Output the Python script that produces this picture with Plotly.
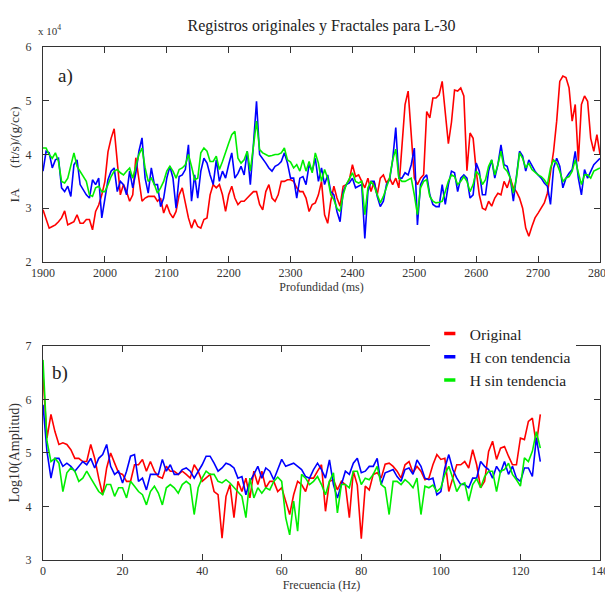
import plotly.graph_objects as go

# ---------------- data: panel a) (values in units of 1e4) ----------------
depth_ms = list(range(1900, 2801, 5))

ia_original = [
    2.97, 2.79, 2.63, 2.66, 2.69, 2.75, 2.82, 2.95, 2.69, 2.72, 2.75, 2.88, 2.72, 2.72, 2.79, 2.79, 2.60, 2.94, 3.06, 3.25,
    3.50, 4.05, 4.30, 4.48, 3.81, 3.25, 3.44, 3.31, 3.13, 3.25, 3.94, 3.56, 3.13, 3.19, 3.22, 3.22, 3.22, 3.13, 3.19, 2.91,
    3.07, 2.91, 2.82,
    2.94, 3.25, 3.38, 3.07, 2.82, 2.63, 2.79, 2.66, 2.63, 2.79, 2.82, 3.25, 3.44, 3.38, 3.44, 3.25, 2.94, 3.25, 3.41, 3.19,
    3.07, 3.13, 3.13, 3.19, 3.25, 3.31, 3.31, 3.07, 2.97, 3.31, 3.44, 3.19, 3.13, 3.25, 3.50, 3.50, 3.53, 3.53, 3.50, 3.38,
    3.31, 3.31, 3.19, 2.94, 3.07,
    3.10, 3.25, 3.50, 2.88, 2.72, 3.13, 3.41, 3.19, 3.04, 3.41, 3.44, 3.53, 3.81, 3.59, 3.62, 3.50, 3.38, 3.56, 3.31, 3.50,
    3.25, 3.56, 3.62, 3.47, 3.56, 3.44, 3.56, 3.38, 4.12, 4.93, 5.18, 4.37, 3.56, 3.44, 3.56, 3.62, 4.80, 4.68, 5.05, 5.05,
    5.11, 5.36, 4.70, 4.20, 4.60,
    5.20, 5.18, 5.24, 5.09, 3.70, 4.40, 4.30, 3.69, 3.25, 3.00, 2.97, 3.13, 3.04, 3.19, 3.28, 3.25, 3.50, 3.38, 3.56, 3.38,
    3.31, 3.19, 3.00, 2.63, 2.48, 2.66, 2.82, 2.91, 3.00, 3.10, 3.28, 3.69, 4.06, 4.62, 5.36, 5.46, 5.43, 5.24, 4.62, 4.93,
    3.87, 4.93, 5.09, 4.99, 4.30, 4.06, 4.37, 4.00,
]

ia_h_con = [
    3.69, 4.06, 4.03, 3.75, 3.90, 3.93, 3.38, 3.31, 3.41, 3.22, 3.81, 3.90, 3.44, 3.34, 3.25, 3.19, 3.53, 3.44, 3.56, 2.82,
    3.19, 3.53, 3.69, 3.75, 3.31, 3.50, 3.44, 3.25, 3.69, 3.38, 3.66, 4.06, 4.31, 3.56, 3.28, 3.75, 3.44, 3.44, 3.03, 3.19,
    3.56, 3.78, 3.56,
    3.00, 3.59, 3.62, 3.72, 4.18, 3.13, 3.62, 3.19, 3.69, 3.93, 3.84, 3.62, 3.44, 3.90, 3.50, 3.69, 3.56, 3.81, 4.03, 3.56,
    3.65, 3.78, 3.62, 4.06, 3.44, 4.18, 4.99, 4.00, 3.93, 3.84, 3.75, 3.69, 3.78, 3.81, 3.87, 4.03, 3.84, 3.56, 3.56, 3.19,
    3.56, 3.59, 3.44, 3.81, 3.69,
    3.93, 3.50, 3.75, 3.44, 3.62, 3.31, 3.25, 2.94, 2.75, 3.31, 3.44, 3.47, 3.56, 3.38, 3.41, 3.44, 2.44, 3.31, 3.50, 3.50,
    3.22, 3.03, 3.13, 3.44, 3.53, 3.90, 4.50, 3.56, 3.56, 3.66, 3.62, 3.81, 4.12, 2.69, 3.44, 3.56, 3.62, 3.25, 3.07, 3.03,
    3.03, 3.44, 3.07, 3.44, 3.69,
    3.66, 3.31, 3.56, 3.62, 3.56, 3.19, 3.25, 3.84, 3.69, 3.25, 3.25, 3.69, 3.90, 3.56, 3.81, 4.18, 3.81, 3.78, 3.56, 3.13,
    3.56, 4.06, 3.97, 3.69, 3.90, 3.78, 3.69, 3.62, 3.56, 3.47, 3.41, 3.07, 3.75, 3.93, 3.78, 3.38, 3.56, 3.65, 3.72, 4.06,
    3.56, 3.25, 3.72, 3.56, 3.69, 3.81, 3.87, 3.93,
]

ia_h_sin = [
    4.12, 4.12, 4.00, 3.93, 4.03, 3.87, 3.50, 3.47, 3.56, 3.81, 4.03, 3.78, 3.69, 3.59, 3.50, 3.25, 3.22, 3.38, 3.41, 3.31,
    3.31, 3.44, 3.59, 3.69, 3.72, 3.66, 3.62, 3.69, 3.75, 3.56, 3.78, 4.00, 4.12, 3.75, 3.50, 3.56, 3.44, 3.28, 3.38, 3.50,
    3.69, 3.78, 3.69,
    3.56, 3.72, 3.75, 3.81, 4.00, 3.78, 3.53, 3.56, 4.03, 4.12, 4.06, 3.87, 3.87, 3.97, 3.72, 3.87, 4.06, 4.21, 4.37, 4.43,
    3.93, 3.84, 3.90, 4.06, 3.69, 4.18, 4.62, 4.09, 4.03, 4.00, 3.97, 3.98, 4.00, 4.00, 4.03, 4.12, 3.90, 3.86, 3.75, 3.81,
    3.69, 3.90, 3.69, 3.87, 3.66,
    4.03, 3.84, 3.50, 3.72, 3.56, 3.25, 3.16, 3.00, 2.94, 3.25, 3.44, 3.56, 3.66, 3.50, 3.47, 3.50, 2.88, 3.38, 3.50, 3.41,
    3.25, 3.10, 3.22, 3.41, 3.56, 3.90, 4.10, 3.56, 3.50, 3.50, 3.53, 3.56, 3.25, 2.88, 3.38, 3.50, 3.53, 3.22, 3.13, 3.10,
    3.11, 3.13, 3.31, 3.50, 3.62,
    3.59, 3.44, 3.50, 3.59, 3.50, 3.31, 3.44, 3.69, 3.62, 3.44, 3.53, 3.78, 3.90, 3.62, 3.81, 4.06, 3.75, 3.69, 3.56, 3.28,
    3.56, 4.03, 3.93, 3.75, 3.84, 3.72, 3.66, 3.62, 3.59, 3.53, 3.44, 3.75, 3.90, 3.84, 3.69, 3.50, 3.56, 3.59, 3.69, 3.90,
    3.66, 3.44, 3.62, 3.62, 3.56, 3.69, 3.72, 3.75,
]

# ---------------- data: panel b) ----------------
freq_hz = list(range(0, 126))

amp_original = [
    6.45, 5.28, 5.72, 5.40, 5.16, 5.19, 5.16, 5.06, 4.90, 4.90, 4.84, 4.84, 5.16, 4.90, 4.53, 4.22, 4.72, 5.00, 4.81, 4.63,
    4.60, 4.47, 4.47, 4.78, 4.78, 4.88, 4.66, 4.84, 4.66, 4.56, 4.53, 4.75, 4.66, 4.66, 4.60, 4.66,
    4.60, 4.53, 4.78, 4.66, 4.47, 4.53, 4.60, 4.28, 4.22, 3.41, 4.19, 4.41, 3.79, 4.47, 4.28, 4.53, 4.16, 4.66, 4.41, 4.66,
    4.35, 4.47, 4.47, 4.28, 4.35, 4.10, 3.85, 4.22, 4.47, 4.41, 4.28, 4.53, 4.53, 4.66, 4.78,
    3.91, 4.47, 4.50, 4.31, 4.47, 4.41, 3.79, 4.66, 4.40, 3.40, 4.38, 4.31, 4.60, 4.63, 4.53, 4.79, 4.81, 4.75, 4.66, 4.53,
    4.78, 4.84, 4.63, 4.75, 4.66, 4.50, 4.53, 4.78, 4.97, 4.88, 4.90, 4.28, 4.53, 4.78,
    4.78, 4.84, 4.72, 5.06, 4.78, 4.35, 4.47, 5.03, 5.22, 4.88, 5.09, 5.12, 4.94, 4.78, 4.78, 5.28, 5.25, 5.59, 5.65, 5.16,
    5.72,
]

amp_h_con = [
    5.90, 5.03, 4.53, 4.90, 4.90, 4.75, 4.81, 4.75, 4.66, 4.75, 4.84, 4.78, 4.90, 4.72, 4.90, 4.97, 5.16, 4.75, 4.60, 4.66,
    4.44, 4.66, 4.94, 4.97, 4.47, 4.53, 4.31, 4.60, 4.60, 4.60, 4.88, 4.66, 4.78, 4.60, 4.60, 4.69,
    4.72, 4.66, 4.53, 4.66, 4.78, 4.94, 4.94, 4.81, 4.66, 4.72, 4.81, 4.78, 4.72, 4.53, 4.56, 4.22, 4.47, 4.60, 4.75, 4.53,
    4.72, 4.66, 4.50, 4.69, 4.88, 4.75, 4.78, 4.81, 4.75, 4.69, 4.56, 4.53, 4.69, 4.81, 4.69,
    4.53, 4.87, 4.41, 4.16, 4.41, 4.66, 4.60, 4.81, 4.90, 4.63, 4.66, 4.75, 4.75, 4.90, 4.41, 4.63, 4.66, 4.69, 4.56, 4.47,
    4.69, 4.72, 4.60, 4.87, 4.75, 4.53, 4.50, 4.53, 4.22, 4.28, 4.72, 4.97, 4.69, 4.53,
    4.41, 4.41, 4.35, 4.53, 4.53, 4.84, 4.75, 4.69, 4.53, 4.75, 4.63, 4.84, 4.60, 4.75, 4.53, 4.47, 4.72, 4.72, 4.56, 5.28,
    4.84,
]

amp_h_sin = [
    6.74, 5.22, 4.84, 4.90, 4.81, 4.28, 4.63, 4.72, 4.66, 4.47, 4.53, 4.66, 4.53, 4.41, 4.28, 4.22, 4.41, 4.41, 4.19, 4.35,
    4.35, 4.16, 4.47, 4.38, 4.28, 4.22, 4.03, 4.28, 4.38, 4.25, 4.03, 4.35, 4.41, 4.35, 4.25, 4.41,
    4.47, 4.41, 3.85, 4.35, 4.53, 4.66, 4.60, 4.60, 4.47, 4.44, 4.50, 4.44, 4.35, 4.28, 4.19, 3.79, 4.53, 4.16, 4.35, 4.25,
    4.35, 4.31, 4.47, 4.55, 4.47, 3.79, 3.47, 4.10, 3.54, 4.60, 4.53, 4.41, 4.47, 4.56, 4.41,
    4.22, 4.47, 4.63, 3.88, 4.41, 4.41, 4.35, 4.66, 4.66, 4.41, 4.53, 4.50, 4.60, 4.75, 4.41, 4.35, 3.85, 4.47, 4.47, 4.41,
    4.50, 4.44, 4.35, 4.53, 3.85, 4.38, 4.35, 4.40, 4.28, 4.35, 4.60, 4.75, 4.53, 4.28,
    4.41, 4.44, 4.10, 4.41, 4.52, 4.35, 4.56, 4.66, 4.66, 4.28, 4.66, 4.69, 4.81, 4.60, 4.50, 4.38, 4.91, 4.84, 5.03, 5.40,
    5.09,
]

series_names = ["Original", "H con tendencia", "H sin tendencia"]
series_colors = ["#ff0000", "#0000ff", "#00ee00"]

# ---------------- figure ----------------
SERIF = "Liberation Serif"
fig = go.Figure()

top = [ia_original, ia_h_con, ia_h_sin]
bottom = [amp_original, amp_h_con, amp_h_sin]
for vals, col in zip(top, series_colors):
    fig.add_trace(go.Scatter(x=depth_ms, y=vals, mode="lines", line=dict(color=col, width=1.6),
                             xaxis="x", yaxis="y", showlegend=False, hoverinfo="skip"))
for vals, col in zip(bottom, series_colors):
    fig.add_trace(go.Scatter(x=freq_hz, y=vals, mode="lines", line=dict(color=col, width=1.6),
                             xaxis="x2", yaxis="y2", showlegend=False, hoverinfo="skip"))
# legend entries (short thick dash markers)
for name, col in zip(series_names, series_colors):
    fig.add_trace(go.Scatter(x=[None], y=[None], mode="markers", name=name,
                             marker=dict(symbol="line-ew-open", size=8, color=col,
                                         line=dict(color=col, width=3.5)),
                             xaxis="x2", yaxis="y2", showlegend=True))

axis_style = dict(showline=True, linecolor="#333", linewidth=1, mirror="ticks", ticks="inside",
                  ticklen=6, tickcolor="#333", showgrid=False, zeroline=False,
                  tickfont=dict(family=SERIF, size=12, color="#333"))

fig.update_layout(
    width=613, height=598,
    margin=dict(l=35, r=9, t=39, b=46),
    paper_bgcolor="white", plot_bgcolor="white",
    title=dict(text="Registros originales y Fractales para L-30", x=0.5, xref="paper", xanchor="center",
               y=1 - 17 / 598, yanchor="middle", font=dict(family=SERIF, size=16, color="#222")),
    xaxis=dict(axis_style, domain=[0, 1], range=[1900, 2800], tickvals=list(range(1900, 2801, 100)),
               anchor="y", title=dict(text="Profundidad (ms)", standoff=2,
                                      font=dict(family=SERIF, size=12, color="#333"))),
    yaxis=dict(axis_style, domain=[0.5809, 1], range=[2, 6], tickvals=[2, 3, 4, 5, 6], anchor="x",
               ticklabelstandoff=8),
    xaxis2=dict(axis_style, domain=[0, 1], range=[0, 140], tickvals=list(range(0, 141, 20)),
                anchor="y2", title=dict(text="Frecuencia (Hz)", standoff=2,
                                        font=dict(family=SERIF, size=12, color="#333"))),
    yaxis2=dict(axis_style, domain=[0, 0.4172], range=[3, 7], tickvals=[3, 4, 5, 6, 7], anchor="x2",
                ticklabelstandoff=8),
    legend=dict(x=0.6944, y=0.4736, xanchor="left", yanchor="top", bgcolor="white",
                font=dict(family=SERIF, size=15.5, color="#222"), itemwidth=30, tracegroupgap=0,
                borderwidth=0),
    annotations=[
        dict(text="x 10<sup>4</sup>", x=-0.012, y=1.033, xref="paper", yref="paper", xanchor="left",
             yanchor="middle", showarrow=False, font=dict(family=SERIF, size=11, color="#333")),
        dict(text="a)", x=0.0404, y=0.9435, xref="paper", yref="paper", xanchor="center",
             yanchor="middle", showarrow=False, font=dict(family=SERIF, size=19, color="#222")),
        dict(text="b)", x=0.0299, y=0.3645, xref="paper", yref="paper", xanchor="center",
             yanchor="middle", showarrow=False, font=dict(family=SERIF, size=19, color="#222")),
        dict(text="IA\u00a0\u00a0\u00a0\u00a0\u00a0\u00a0(ft/s)/(g/cc)", x=-0.051, y=0.7895, xref="paper",
             yref="paper", xanchor="center", yanchor="middle", textangle=-90, showarrow=False,
             font=dict(family=SERIF, size=13.5, color="#333")),
        dict(text="Log10(Amplitud)", x=-0.051, y=0.2086, xref="paper", yref="paper",
             xanchor="center", yanchor="middle", textangle=-90, showarrow=False,
             font=dict(family=SERIF, size=14, color="#333")),
    ],
)

fig.write_html("out.html")
